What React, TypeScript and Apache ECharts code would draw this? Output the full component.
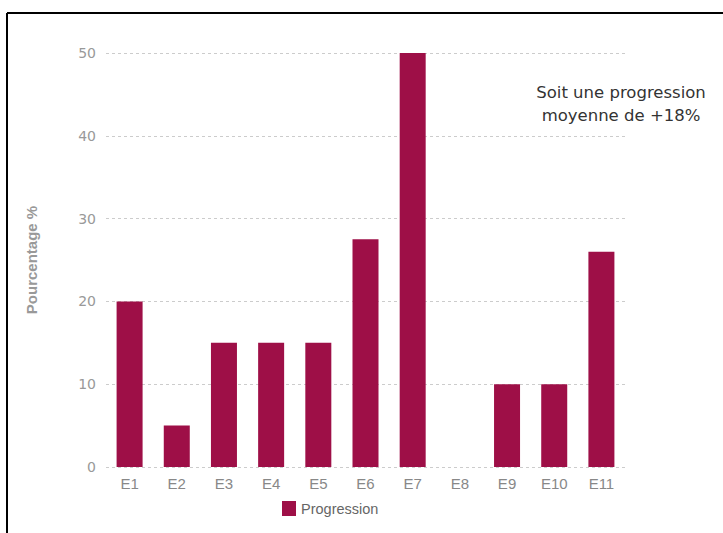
import React, { useEffect, useRef } from "react";
import * as echarts from "echarts";

const categories = ["E1", "E2", "E3", "E4", "E5", "E6", "E7", "E8", "E9", "E10", "E11"];
const progression = [20, 5, 15, 15, 15, 27.5, 50, 0, 10, 10, 26];
const seriesName = "Progression";
const yAxisTitle = "Pourcentage %";
const noteLines = ["Soit une progression", "moyenne de +18%"];

const ARIAL = "'Liberation Sans', Arial, sans-serif";

export default function App() {
  const ref = useRef<HTMLDivElement>(null);
  useEffect(() => {
    if (!ref.current) return;
    const chart = echarts.init(ref.current, null, { renderer: "svg" });
    chart.setOption({
      animation: false,
      backgroundColor: "#ffffff",
      grid: { left: 106, width: 519, top: 53, height: 414 },
      legend: {
        data: [seriesName],
        bottom: 12,
        left: 277,
        itemWidth: 14,
        itemHeight: 15,
        itemGap: 6,
        icon: "rect",
        textStyle: { color: "#666", fontSize: 14.5, fontFamily: ARIAL },
      },
      xAxis: {
        type: "category",
        data: categories,
        axisLine: { show: false },
        axisTick: { show: false },
        axisLabel: { color: "#888", fontSize: 15, margin: 9, fontFamily: ARIAL },
      },
      yAxis: {
        type: "value",
        min: 0,
        max: 50,
        interval: 10,
        name: yAxisTitle,
        nameLocation: "middle",
        nameGap: 67,
        nameTextStyle: { color: "#999", fontSize: 15, fontWeight: "bold", fontFamily: ARIAL },
        axisLine: { show: false },
        axisTick: { show: false },
        axisLabel: { color: "#999", fontSize: 14, margin: 10, fontFamily: "'DejaVu Sans', sans-serif" },
        splitLine: { lineStyle: { color: "#ccc", type: [3, 3], width: 1 } },
      },
      series: [
        {
          name: seriesName,
          type: "bar",
          data: progression,
          barWidth: 26,
          itemStyle: { color: "#9e0f47" },
        },
      ],
      graphic: [
        { type: "line", shape: { x1: 7, y1: 13, x2: 723, y2: 13 }, style: { stroke: "#000", lineWidth: 2 } },
        { type: "line", shape: { x1: 7, y1: 13, x2: 7, y2: 533 }, style: { stroke: "#000", lineWidth: 2 } },
        ...noteLines.map((line, i) => ({
          type: "text",
          x: 621,
          y: 92 + i * 23,
          style: {
            text: line,
            align: "center",
            verticalAlign: "middle",
            fill: "#333",
            fontSize: 16.5,
            fontFamily: "'DejaVu Sans', sans-serif",
          },
        })),
      ],
    });
    return () => chart.dispose();
  }, []);
  return <div ref={ref} style={{ width: 723, height: 533, position: "absolute", left: 0, top: 0 }} />;
}
